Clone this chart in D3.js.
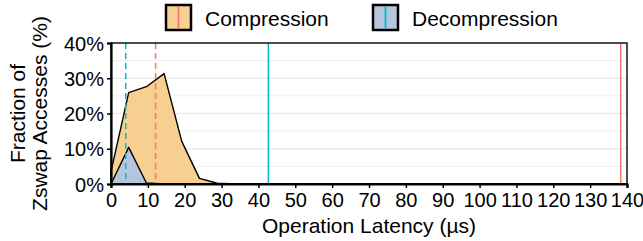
<!DOCTYPE html>
<html>
<head>
<meta charset="utf-8">
<script src="https://cdn.jsdelivr.net/npm/d3@7"></script>
<style>
  body { margin: 0; background: #fff; }
  text { font-family: "Liberation Sans", Arial, sans-serif; fill: #000; }
</style>
</head>
<body>
<svg id="chart" width="643" height="241"></svg>
<script>
// latency (us) vs fraction of zswap accesses (%)
var compX   = [0, 4.8, 9.6, 14.4, 19.2, 24, 28.8, 33.6, 140];
var compY   = [3.5, 25.9, 27.6, 31.3, 12.1, 1.6, 0.2, 0, 0];
var decompX = [0, 4.8, 9.6, 14.4, 140];
var decompY = [0, 10.4, 0.3, 0, 0];

// vertical markers: median (dashed) and max (solid)
var compMarks   = [{v: 12.1, dash: true}, {v: 138.3, dash: false}];
var decompMarks = [{v: 4, dash: true}, {v: 42.7, dash: false}];

var xTicks = d3.range(0, 141, 10);
var yTicks = [0, 10, 20, 30, 40];
var yGrid  = [5, 10, 15, 20, 25, 30, 35];

var seriesNames = ["Compression", "Decompression"];
var fills = ["#f7cf90", "#b4c5dc"];
var lineCols = ["#f8766d", "#00bfc4"];

var margin = {top: 43, right: 16, bottom: 57, left: 111},
    width = 643 - margin.left - margin.right,
    height = 241 - margin.top - margin.bottom;

var svg = d3.select("#chart");
var g = svg.append("g")
  .attr("transform", "translate(" + margin.left + "," + margin.top + ")");

var x = d3.scaleLinear().domain([0, 140]).range([0, width]);
var y = d3.scaleLinear().domain([0, 40]).range([height, 0]);

// grid
g.selectAll(".grid").data(yGrid).enter().append("line")
  .attr("x1", 0).attr("x2", width)
  .attr("y1", function(d) { return y(d); })
  .attr("y2", function(d) { return y(d); })
  .attr("stroke", "#ebebeb")
  .attr("stroke-width", function(d) { return d % 10 == 0 ? 1.3 : 0.8; });

var area = d3.area()
  .x(function(d) { return x(d[0]); })
  .y0(y(0))
  .y1(function(d) { return y(d[1]); });

var comp = d3.zip(compX, compY),
    decomp = d3.zip(decompX, decompY);

g.append("path").datum(comp)
  .attr("d", area)
  .attr("fill", fills[0])
  .attr("stroke", "#000")
  .attr("stroke-width", 1.4)
  .attr("stroke-linejoin", "round");

g.append("path").datum(decomp)
  .attr("d", area)
  .attr("fill", fills[1])
  .attr("stroke", "#000")
  .attr("stroke-width", 1.4)
  .attr("stroke-linejoin", "round");

function drawMarks(marks, col) {
  g.selectAll(null).data(marks).enter().append("line")
    .attr("x1", function(d) { return x(d.v); })
    .attr("x2", function(d) { return x(d.v); })
    .attr("y1", 0).attr("y2", height)
    .attr("stroke", col)
    .attr("stroke-width", 1.5)
    .attr("stroke-dasharray", function(d) { return d.dash ? "6,4" : null; });
}
drawMarks(compMarks, lineCols[0]);
drawMarks(decompMarks, lineCols[1]);

// frame
g.append("rect")
  .attr("width", width).attr("height", height)
  .attr("fill", "none")
  .attr("stroke", "#000")
  .attr("stroke-width", 1.4);

var xAxis = g.append("g")
  .attr("transform", "translate(0," + height + ")")
  .call(d3.axisBottom(x).tickValues(xTicks).tickSize(4).tickPadding(3).tickFormat(d3.format("d")));
var yAxis = g.append("g")
  .call(d3.axisLeft(y).tickValues(yTicks).tickSize(4).tickPadding(3)
    .tickFormat(function(d) { return d + "%"; }));

[xAxis, yAxis].forEach(function(a) {
  a.select(".domain").attr("stroke-width", 2.2);
  a.selectAll(".tick line").attr("stroke-width", 1.5);
  a.selectAll("text").style("font-size", "20px").attr("fill", "#000");
});
xAxis.selectAll("text").attr("dy", "0.82em");
yAxis.selectAll("text").attr("dy", "0.36em");

g.append("text")
  .attr("x", width / 2)
  .attr("y", height + 49)
  .attr("text-anchor", "middle")
  .style("font-size", "21px")
  .text("Operation Latency (\u00b5s)");

var ylab = svg.append("text")
  .attr("transform", "translate(25," + (margin.top + height / 2) + ") rotate(-90)")
  .attr("text-anchor", "middle")
  .style("font-size", "21px");
ylab.append("tspan").attr("x", 0).attr("y", 0).text("Fraction of");
ylab.append("tspan").attr("x", 0).attr("y", 22).text("Zswap Accesses (%)");

// legend
var legPos = [166, 373];
var leg = svg.selectAll(".leg").data(seriesNames).enter().append("g")
  .attr("transform", function(d, i) { return "translate(" + legPos[i] + ",5)"; });
leg.append("rect")
  .attr("width", 25).attr("height", 25)
  .attr("fill", function(d, i) { return fills[i]; })
  .attr("stroke", "#000")
  .attr("stroke-width", 2.5);
leg.append("line")
  .attr("x1", 12.5).attr("x2", 12.5)
  .attr("y1", 1.5).attr("y2", 23.5)
  .attr("stroke", function(d, i) { return lineCols[i]; })
  .attr("stroke-width", 1.8);
leg.append("text")
  .attr("x", 39).attr("y", 21)
  .style("font-size", "21px")
  .text(function(d) { return d; });
</script>
</body>
</html>
